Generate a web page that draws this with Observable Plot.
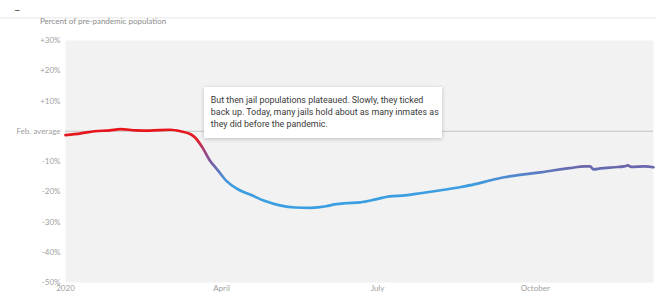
<!DOCTYPE html>
<html>
<head>
<meta charset="utf-8">
<script src="https://cdn.jsdelivr.net/npm/d3@7"></script>
<script src="https://cdn.jsdelivr.net/npm/@observablehq/plot@0.6"></script>
<style>
  html, body { margin: 0; padding: 0; background: #fff; }
  #wrap { position: relative; width: 656px; height: 295px; overflow: hidden; font-family: Lato, "Open Sans", sans-serif; }
  #topbar { position: absolute; left: 0; top: 0; width: 656px; height: 17px; background: #fff; box-shadow: 0 1px 2px rgba(0,0,0,0.10); z-index: 2; }
  #dash { position: absolute; left: 14px; top: 3px; font-size: 11px; color: #333; }
  #title { position: absolute; left: 40px; top: 16px; font-size: 8px; color: #8a8a8a; z-index: 3; }
  #note { position: absolute; background: #fff; box-shadow: 0 1px 4px rgba(0,0,0,0.22); font-family: Roboto, "Open Sans", sans-serif; font-size: 8.9px; line-height: 12.3px; color: #3a3a3a; padding: 7px 4px 5px 7px; box-sizing: border-box; z-index: 3; white-space: nowrap; }
  svg { display: block; }
</style>
</head>
<body>
<div id="wrap">
  <div id="topbar"><span id="dash">–</span></div>
  <div id="title">Percent of pre-pandemic population</div>
</div>
<script>
// Percent change in jail population vs. February average (2020)
const dates = [
  "2020-01-01","2020-01-10","2020-01-18","2020-01-27","2020-02-02","2020-02-11","2020-02-19",
  "2020-03-02","2020-03-08","2020-03-14","2020-03-17","2020-03-21","2020-03-25","2020-03-30",
  "2020-04-04","2020-04-10","2020-04-18","2020-04-26","2020-05-05","2020-05-14","2020-05-23",
  "2020-06-01","2020-06-06","2020-06-12","2020-06-21","2020-06-30","2020-07-08","2020-07-17",
  "2020-07-26","2020-08-07","2020-08-18","2020-08-27","2020-09-05","2020-09-13","2020-09-22",
  "2020-10-04","2020-10-12","2020-10-21","2020-10-30","2020-11-02","2020-11-04","2020-11-08",
  "2020-11-16","2020-11-22","2020-11-24","2020-11-26","2020-12-04","2020-12-09"
];
const values = [
  -1.3, -0.7, 0.0, 0.3, 0.7, 0.3, 0.2,
  0.5, 0.0, -1.0, -2.3, -5.5, -9.5, -13.0,
  -16.5, -19.0, -21.0, -23.0, -24.5, -25.2, -25.3,
  -24.8, -24.2, -23.8, -23.5, -22.5, -21.5, -21.2,
  -20.5, -19.5, -18.5, -17.5, -16.2, -15.2, -14.4,
  -13.6, -12.9, -12.2, -11.6, -11.6, -12.6, -12.3,
  -11.9, -11.6, -11.3, -11.8, -11.6, -11.9
];
const yTicks = [30, 20, 10, 0, -10, -20, -30, -40, -50];
const yTickLabels = ["+30%", "+20%", "+10%", "Feb. average", "-10%", "-20%", "-30%", "-40%", "-50%"];
const xTicks = ["2020-01-01", "2020-04-01", "2020-07-01", "2020-10-01"];
const xTickLabels = ["2020", "April", "July", "October"];
const colorStops = [0.5, -3, -6, -10, -12, -15, -18, -26];
const colorRange = ["#e8141c", "#e0202a", "#a83c76", "#7a5a9e", "#6868ae", "#4f8ad0", "#3d9de0", "#3a9fe2"];
const noteLines = [
  "But then jail populations plateaued. Slowly, they ticked",
  "back up. Today, many jails hold about as many inmates as",
  "they did before the pandemic."
];
const noteAnchor = { date: "2020-03-22", value: 14.6, endDate: "2020-08-08", bottom: -2.3 };

const data = dates.map((d, i) => ({ date: new Date(d + "T00:00:00"), value: values[i] }));
const xt = xTicks.map(d => new Date(d + "T00:00:00"));

const plot = Plot.plot({
  width: 656,
  height: 295,
  marginLeft: 65,
  marginRight: 3,
  marginTop: 40,
  marginBottom: 13,
  style: { fontFamily: "Lato, 'Open Sans', sans-serif", fontSize: "8px", color: "#a0a0a0", background: "transparent" },
  x: {
    type: "utc",
    domain: [new Date("2020-01-01T00:00:00"), new Date("2020-12-09T00:00:00")],
    ticks: xt,
    tickFormat: d => xTickLabels[xt.findIndex(t => +t === +d)],
    tickSize: 0,
    tickPadding: 3,
    label: null
  },
  y: {
    domain: [-50, 30],
    ticks: yTicks,
    tickFormat: d => yTickLabels[yTicks.indexOf(d)],
    tickSize: 0,
    tickPadding: 5,
    label: null
  },
  marks: [
    Plot.frame({ fill: "#f2f2f2", stroke: "none" }),
    Plot.ruleY([0], { stroke: "#c4c4c4", strokeWidth: 1 }),
    Plot.line(data, { x: "date", y: "value", stroke: "url(#valgrad)", strokeWidth: 2.7, curve: "monotone-x" })
  ]
});

// gradient by value, positioned via the y scale
const ys = plot.scale("y");
const ns = "http://www.w3.org/2000/svg";
const defs = document.createElementNS(ns, "defs");
const grad = document.createElementNS(ns, "linearGradient");
grad.setAttribute("id", "valgrad");
grad.setAttribute("gradientUnits", "userSpaceOnUse");
const y0 = ys.apply(colorStops[0]), y1 = ys.apply(colorStops[colorStops.length - 1]);
grad.setAttribute("x1", 0); grad.setAttribute("x2", 0);
grad.setAttribute("y1", y0); grad.setAttribute("y2", y1);
colorStops.forEach((v, i) => {
  const s = document.createElementNS(ns, "stop");
  s.setAttribute("offset", (ys.apply(v) - y0) / (y1 - y0));
  s.setAttribute("stop-color", colorRange[i]);
  grad.appendChild(s);
});
defs.appendChild(grad);
plot.insertBefore(defs, plot.firstChild);

const wrap = document.getElementById("wrap");
wrap.appendChild(plot);

// annotation box positioned with the scales
const xs = plot.scale("x");
const note = document.createElement("div");
note.id = "note";
noteLines.forEach((t, i) => {
  if (i) note.appendChild(document.createElement("br"));
  note.appendChild(document.createTextNode(t));
});
const left = xs.apply(new Date(noteAnchor.date + "T00:00:00"));
const right = xs.apply(new Date(noteAnchor.endDate + "T00:00:00"));
note.style.left = left + "px";
note.style.top = ys.apply(noteAnchor.value) + "px";
note.style.width = (right - left) + "px";
note.style.height = (ys.apply(noteAnchor.bottom) - ys.apply(noteAnchor.value)) + "px";
wrap.appendChild(note);
</script>
</body>
</html>
